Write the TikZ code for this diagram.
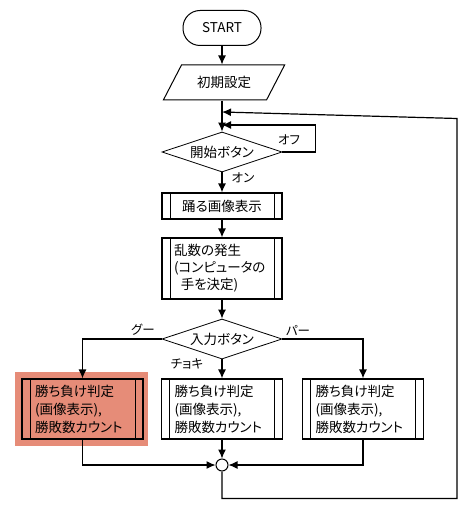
\documentclass[tikz,border=0pt]{standalone}
\usepackage{fontspec}
\setmainfont[RawFeature=+palt]{Noto Sans CJK JP}
\usepackage{tikz}
\usetikzlibrary{shapes.geometric,arrows.meta}
\definecolor{hilite}{RGB}{230,140,120}
\tikzset{
	flow/.style     = {draw, line width=1.2pt, -{Latex[length=9pt,width=8pt]}},
	term/.style     = {shape=rectangle, rounded corners=17pt, draw, line width=1pt,
		minimum width=78pt, minimum height=35pt},
	io/.style       = {trapezium, trapezium left angle=56, trapezium right angle=124,
		trapezium stretches=true, draw, line width=1pt,
		minimum width=122pt, minimum height=35pt},
	decide/.style   = {diamond, draw, line width=0.8pt, aspect=3, inner sep=1pt,
		minimum width=120pt, minimum height=40pt},
	sub/.style      = {shape=rectangle, draw, line width=1.2pt, align=left,
		minimum width=120pt, inner xsep=12pt,
		path picture={\draw[line width=0.8pt]
			([xshift=8pt]path picture bounding box.north west) --
			([xshift=8pt]path picture bounding box.south west)
			([xshift=-8pt]path picture bounding box.north east) --
			([xshift=-8pt]path picture bounding box.south east);}},
	judge/.style    = {sub, text width=95pt, inner xsep=13pt, minimum height=60pt,
		font=\fontsize{13.5}{18}\selectfont},
	merge/.style    = {circle, draw, line width=1pt, minimum size=12pt, inner sep=0pt},
	lbl/.style      = {font=\fontsize{12.5}{14}\selectfont}
}

\begin{document}
\begin{tikzpicture}
	[
	x = 1pt, y = -1pt,
	every node/.style = {font=\fontsize{13.5}{17}\selectfont}
	]
	\useasboundingbox (0,0) rectangle (474,508);
	\fill[hilite] (15,372) rectangle (148,446);
	\node [term] (start) at (222,28) {START};
	\node [io] (init) at (224,82.5) {初期設定};
	\node [decide] (btn) at (222,152) {開始ボタン};
	\node [sub, text width=96pt, align=center, minimum height=26pt] (dance) at (222,206) {踊る画像表示};
	\node [sub, text width=96pt, minimum height=61pt] (rand) at (222,268.5)
		{乱数の発生\\(コンピュータの\\\hspace*{0.5em}手を決定)};
	\node [decide] (input) at (222,339) {入力ボタン};
	\node [judge] (goo) at (82.5,409) {勝ち負け判定\\(画像表示),\\勝敗数カウント};
	\node [judge] (choki) at (222,409) {勝ち負け判定\\(画像表示),\\勝敗数カウント};
	\node [judge] (paa) at (363,409) {勝ち負け判定\\(画像表示),\\勝敗数カウント};
	\node [merge] (join) at (222,465) {};
	\coordinate (back) at (222,112);
	\coordinate (offin) at (222,125);
	\node [lbl] (offlbl) at (289,140) {オフ};
	\node [lbl] (onlbl) at (243,178) {オン};
	\node [lbl] (goolbl) at (143,330) {グー};
	\node [lbl] (paalbl) at (298,330) {パー};
	\node [lbl] (chokilbl) at (187,364) {チョキ};
	\draw [flow] (start) -- (start |- init.north);
	\draw [flow] (start |- init.south) -- (btn.north);
	\draw [flow] (btn.east) -- ++(33,0) |- (offin);
	\draw [flow] (btn.south) -- (dance.north);
	\draw [flow] (dance.south) -- (rand.north);
	\draw [flow] (rand.south) -- (input.north);
	\draw [flow] (input.west) -| (goo.north);
	\draw [flow] (input.south) -- (choki.north);
	\draw [flow] (input.east) -| (paa.north);
	\draw [flow] (goo.south) |- (join.west);
	\draw [flow] (choki.south) -- (join.north);
	\draw [flow] (paa.south) |- (join.east);
	\draw [flow] (join.south) -- ++(0,27) -| ++(235,-380) -- (back);
\end{tikzpicture}
\end{document}
